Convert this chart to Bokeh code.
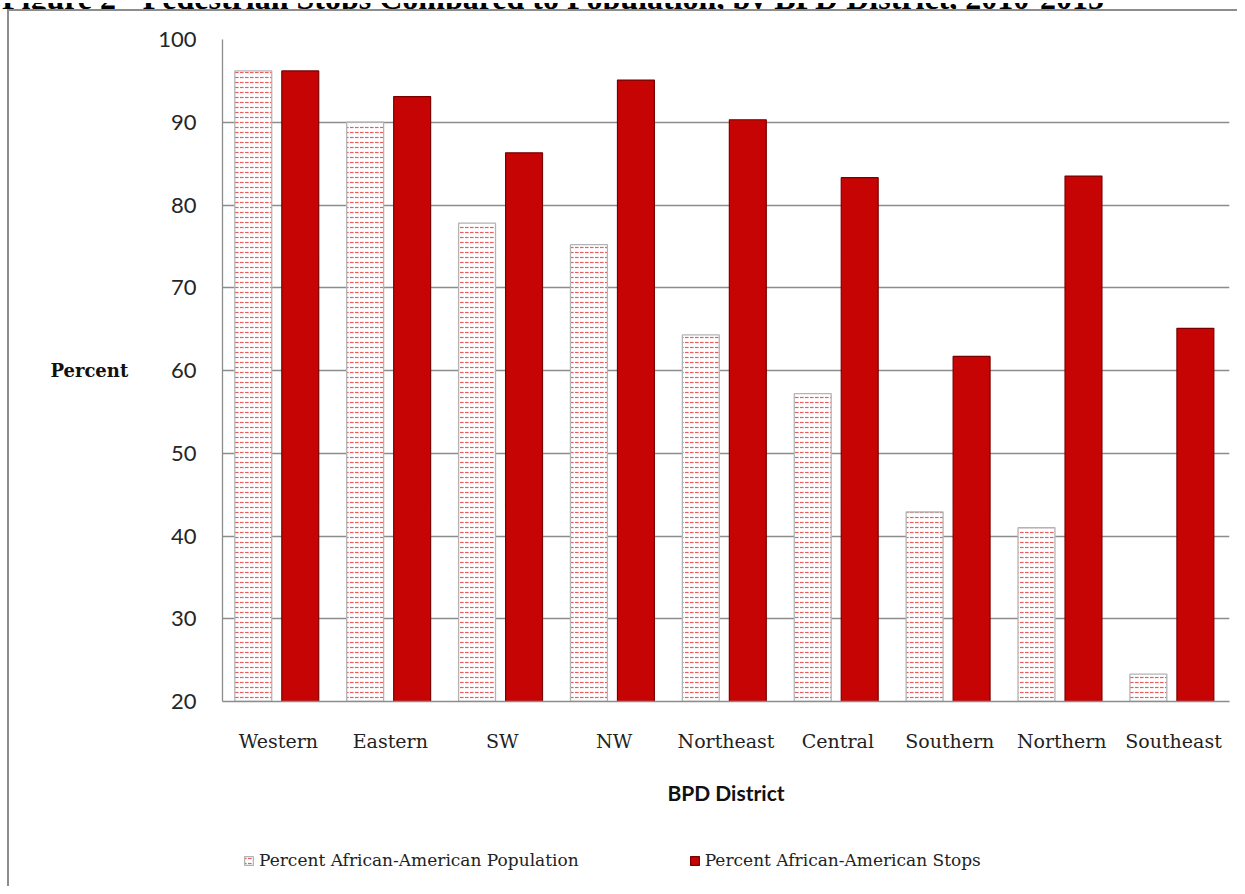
from bokeh.plotting import figure
from bokeh.layouts import column
from bokeh.models import (FactorRange, Range1d, Legend, LegendItem, Div,
                          ColumnDataSource, FixedTicker)
from bokeh.transform import dodge
from bokeh.embed import file_html
from bokeh.resources import INLINE

# ---- data ----
districts = ["Western", "Eastern", "SW", "NW", "Northeast", "Central",
             "Southern", "Northern", "Southeast"]
pct_population = [96.2, 90.0, 77.8, 75.2, 64.3, 57.2, 42.9, 41.0, 23.3]
pct_stops = [96.2, 93.1, 86.3, 95.1, 90.3, 83.3, 61.7, 83.5, 65.1]
y_ticks = [20, 30, 40, 50, 60, 70, 80, 90, 100]
series_names = ["Percent African-American Population",
                "Percent African-American Stops"]
title_text = "Figure 2 - Pedestrian Stops Compared to Population, by BPD District, 2010-2015"
x_title = "BPD District"
y_title = "Percent"

src = ColumnDataSource(dict(d=districts, pop=pct_population, stops=pct_stops))

W = 1237
H0, H1, H2 = 9, 831, 46

pop_style = dict(fill_color="white", hatch_pattern="horizontal_dash",
                 hatch_color="#e01818", hatch_scale=5, hatch_weight=1.2,
                 hatch_alpha=0.7, line_color="#b4b4b4", line_width=1.3)
stop_style = dict(fill_color="#c60404", line_color="#7a0000", line_width=1.2)

# ---- strip above the chart box: the figure title, cut off at the top ----
t = Div(text=('<div style="height:%dpx; width:%dpx; overflow:hidden; position:relative;">'
              '<div style="position:absolute; left:2px; top:-21px; white-space:nowrap; '
              "font-family:'Liberation Serif'; font-weight:bold; font-size:32px; "
              'line-height:32px; color:black;">%s</div></div>') % (H0, W, title_text),
        width=W, height=H0, margin=(0, 0, 0, 0), styles={"overflow": "hidden"})

# ---- main chart ----
p = figure(x_range=FactorRange(*districts), y_range=Range1d(20, 100),
           width=W, height=H1, output_backend="svg", toolbar_location=None,
           min_border_left=222, min_border_right=W - 1229,
           min_border_top=39 - H0, min_border_bottom=H1 - (701 - H0))
p.background_fill_color = "white"
p.border_fill_color = "white"
p.border_fill_alpha = 0
p.outline_line_color = None

r_pop = p.vbar(x=dodge("d", -0.225, range=p.x_range), top="pop", bottom=20,
               width=0.33, source=src, **pop_style)
r_stops = p.vbar(x=dodge("d", 0.195, range=p.x_range), top="stops", bottom=20,
                 width=0.33, source=src, **stop_style)

p.yaxis.ticker = FixedTicker(ticks=y_ticks)
p.yaxis.major_tick_line_color = None
p.yaxis.minor_tick_line_color = None
p.yaxis.axis_line_color = "#8c8c8c"
p.yaxis.axis_line_width = 1.3
p.yaxis.major_label_standoff = 20
p.yaxis.major_label_text_font = "Lato"
p.yaxis.major_label_text_font_size = "22px"
p.yaxis.major_label_text_color = "#262626"
p.yaxis.axis_label = y_title
p.yaxis.axis_label_orientation = "horizontal"
p.yaxis.axis_label_standoff = 27
p.yaxis.axis_label_text_font = "DejaVu Serif"
p.yaxis.axis_label_text_font_style = "bold"
p.yaxis.axis_label_text_font_size = "18px"
p.yaxis.axis_label_text_color = "#111111"

p.xaxis.major_tick_line_color = None
p.xaxis.axis_line_color = "#8c8c8c"
p.xaxis.axis_line_width = 1.3
p.xaxis.major_label_standoff = 22
p.xaxis.major_label_text_font = "DejaVu Serif"
p.xaxis.major_label_text_font_size = "19px"
p.xaxis.major_label_text_color = "#222222"
p.xaxis.axis_label = x_title
p.xaxis.axis_label_text_font = "Lato"
p.xaxis.axis_label_text_font_style = "bold"
p.xaxis.axis_label_text_font_size = "21px"
p.xaxis.axis_label_text_color = "#111111"
p.xaxis.axis_label_standoff = 25

p.xgrid.grid_line_color = None
p.ygrid.grid_line_color = "#8c8c8c"
p.ygrid.grid_line_width = 1.3
p.ygrid.ticker = FixedTicker(ticks=y_ticks)

# ---- legend strip below the chart ----
q = figure(x_range=Range1d(0, 1), y_range=Range1d(0, 1), width=W, height=H2,
           output_backend="svg", toolbar_location=None,
           x_axis_type=None, y_axis_type=None,
           min_border=0, min_border_left=0, min_border_right=0,
           min_border_top=0, min_border_bottom=0)
q.background_fill_alpha = 0
q.border_fill_alpha = 0
q.outline_line_color = None
q.xgrid.visible = False
q.ygrid.visible = False
# legend-key renderers (their single bar lies far outside the visible range)
key = ColumnDataSource(dict(x=[-50.0], top=[-50.0]))
l_pop = q.vbar(x="x", top="top", bottom=-51.0, width=0.1, source=key, **pop_style)
l_stops = q.vbar(x="x", top="top", bottom=-51.0, width=0.1, source=key, **stop_style)

legend = Legend(items=[LegendItem(label=series_names[0], renderers=[l_pop]),
                       LegendItem(label=series_names[1], renderers=[l_stops])],
                orientation="horizontal", location=(21, 16),
                border_line_color=None, background_fill_alpha=0,
                label_text_font="DejaVu Serif", label_text_font_size="17px",
                label_text_color="#222222", glyph_width=11, glyph_height=11,
                label_standoff=5, spacing=110, padding=0, margin=0)
q.add_layout(legend, "center")

layout = column(t, p, q, spacing=0)
# top and left edges of the chart box
layout.styles = {
    "background-color": "white",
    "background-image": "linear-gradient(#8d8d8d, #8d8d8d), linear-gradient(#8d8d8d, #8d8d8d)",
    "background-size": "100% 2px, 2px 100%",
    "background-position": "7px 9px, 7px 9px",
    "background-repeat": "no-repeat",
}

open("out.html", "w").write(file_html(layout, INLINE))
